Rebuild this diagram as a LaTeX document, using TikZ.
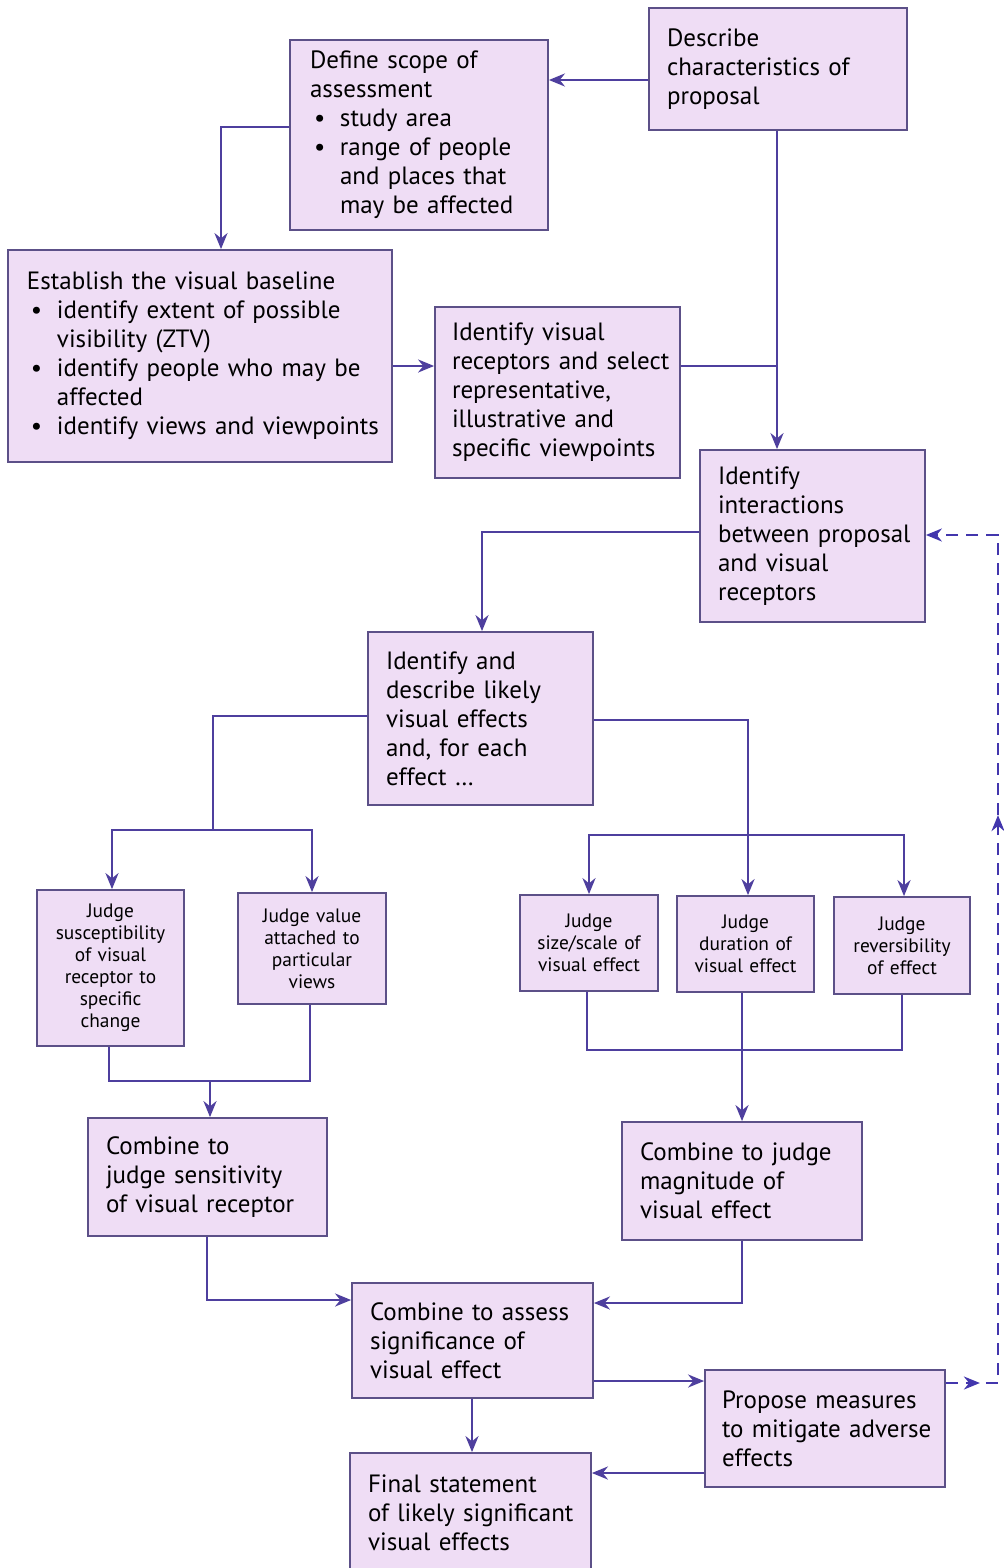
\documentclass[tikz,border=0pt]{standalone}
\usepackage{fontspec}
\setmainfont{PT Sans}
\usetikzlibrary{arrows.meta,decorations.markings}
\definecolor{boxfill}{HTML}{EFDDF5}
\definecolor{boxline}{HTML}{5C5088}
\definecolor{arr}{HTML}{4E3F9E}
\newcommand\bigfont{\fontsize{12.5}{14.5}\selectfont\hyphenpenalty=10000\exhyphenpenalty=10000}
\newcommand\smallfont{\fontsize{9.7}{11}\selectfont\hyphenpenalty=10000\exhyphenpenalty=10000}
\newcommand\bul[1]{\par\hangindent=15pt\hangafter=1\noindent\makebox[15pt][l]{\hspace{2pt}\textbullet}#1\par}
% name, x1, y1, x2, y2, pad(px), style, text
\newcommand\bx[8]{%
  \pgfmathsetmacro\myBW{(#4-#2)*0.5}%
  \pgfmathsetmacro\myBH{(#5-#3)*0.5}%
  \pgfmathsetmacro\myTW{(#4-#2-4)*0.5}%
  \pgfmathsetmacro\myPad{(#6-2)*0.5}%
  \node[#7, inner xsep=1pt, minimum width=\myBW pt, minimum height=\myBH pt, text width=\myTW pt] (#1) at ({(#2+#4)/2},{(#3+#5)/2}) {\leftskip=\myPad pt\relax #8\par};}
\newcommand\sbx[7]{%
  \pgfmathsetmacro\myBW{(#4-#2)*0.5}%
  \pgfmathsetmacro\myBH{(#5-#3)*0.5}%
  \pgfmathsetmacro\myTW{(#4-#2-4)*0.5}%
  \node[#6, inner xsep=1pt, minimum width=\myBW pt, minimum height=\myBH pt, text width=\myTW pt] (#1) at ({(#2+#4)/2},{(#3+#5)/2}) {#7};}
\tikzset{
  boxl/.style={draw=boxline, line width=0.9pt, fill=boxfill, inner ysep=2pt, align=left, font=\bigfont},
  boxs/.style={draw=boxline, line width=0.9pt, fill=boxfill, inner ysep=2pt, align=center, font=\smallfont},
  conn/.style={draw=arr, line width=1.2pt},
  arrowline/.style={conn, -{Stealth[length=8pt,width=6.5pt]}},
  dashline/.style={draw=arr!85!blue, line width=1.1pt, dash pattern=on 6pt off 4pt}
}
\begin{document}
\begin{tikzpicture}[x=0.5pt,y=-0.5pt]
\useasboundingbox (0,0) rectangle (1003,1568);
\fill[white] (0,0) rectangle (1003,1568);

\bx{desc}{649}{8}{907}{130}{18}{boxl}{Describe\\characteristics of\\proposal}
\bx{scope}{290}{40}{548}{230}{20}{boxl}{Define scope of\\assessment
\bul{study area}
\bul{range of people\newline and places that\newline may be affected}}
\bx{base}{8}{250}{392}{462}{19}{boxl}{Establish the visual baseline
\bul{identify extent of possible\newline visibility (ZTV)}
\bul{identify people who may be\newline affected}
\bul{identify views and viewpoints}}
\bx{recep}{435}{307}{680}{478}{17}{boxl}{Identify visual\\receptors and select\\representative,\\illustrative and\\specific viewpoints}
\bx{inter}{700}{450}{925}{622}{18}{boxl}{Identify\\interactions\\between proposal\\and visual\\receptors}
\bx{desc2}{368}{632}{593}{805}{18}{boxl}{Identify and\\describe likely\\visual effects\\and, for each\\effect \dots}
\sbx{susc}{37}{890}{184}{1046}{boxs}{Judge\\susceptibility\\of visual\\receptor to\\specific\\change}
\sbx{val}{238}{893}{386}{1004}{boxs}{Judge value\\attached to\\particular\\views}
\sbx{size}{520}{895}{658}{991}{boxs}{Judge\\size/scale of\\visual effect}
\sbx{dur}{677}{896}{814}{992}{boxs}{Judge\\duration of\\visual effect}
\sbx{rev}{834}{897}{970}{994}{boxs}{Judge\\reversibility\\of effect}
\bx{sens}{88}{1118}{327}{1236}{18}{boxl}{Combine to\\judge sensitivity\\of visual receptor}
\bx{mag}{622}{1122}{862}{1240}{18}{boxl}{Combine to judge\\magnitude of\\visual effect}
\bx{sig}{352}{1283}{593}{1398}{18}{boxl}{Combine to assess\\significance of\\visual effect}
\bx{prop}{705}{1370}{945}{1487}{17}{boxl}{Propose measures\\to mitigate adverse\\effects}
\bx{final}{350}{1453}{591}{1572}{18}{boxl}{Final statement\\of likely significant\\visual effects}

\coordinate (j1) at (777,366);
\coordinate (jL) at (213,830);
\coordinate (jR) at (748,835);
\coordinate (jLB) at (210,1081);
\coordinate (jRB) at (742,1050);
\coordinate (dB) at (998,1383);
\coordinate (dT) at (998,535);

\draw[arrowline] (desc.west |- 0,80) -- (scope.east |- 0,80);
\draw[arrowline] (scope.west |- 0,127) -| (base.north -| 221,0);
\draw[arrowline] (desc.south -| 777,0) -- (inter.north -| 777,0);
\draw[conn] (recep.east |- 0,366) -- (j1);
\draw[arrowline] (base.east |- 0,366) -- (recep.west |- 0,366);
\draw[arrowline] (inter.west |- 0,532) -| (desc2.north -| 482,0);
\draw[conn] (desc2.west |- 0,716) -| (jL);
\draw[arrowline] (jL) -| (susc.north -| 112,0);
\draw[arrowline] (jL) -| (val.north -| 312,0);
\draw[arrowline] (desc2.east |- 0,720) -| (dur.north -| 748,0);
\draw[arrowline] (jR) -| (size.north -| 589,0);
\draw[arrowline] (jR) -| (rev.north -| 904,0);
\draw[conn] (susc.south -| 109,0) |- (jLB);
\draw[conn] (val.south -| 310,0) |- (jLB);
\draw[arrowline] (jLB) -- (sens.north -| 210,0);
\draw[conn] (size.south -| 587,0) |- (jRB);
\draw[conn] (rev.south -| 902,0) |- (jRB);
\draw[arrowline] (dur.south -| 742,0) -- (mag.north -| 742,0);
\draw[arrowline] (sens.south -| 207,0) |- (sig.west |- 0,1300);
\draw[arrowline] (mag.south -| 742,0) |- (sig.east |- 0,1303);
\draw[arrowline] (sig.east |- 0,1381) -- (prop.west |- 0,1381);
\draw[arrowline] (sig.south -| 472,0) -- (final.north -| 472,0);
\draw[arrowline] (prop.west |- 0,1473) -- (final.east |- 0,1473);
\draw[dashline, -{Stealth[length=8pt,width=6.5pt]},
  decoration={markings,
    mark=at position 17pt with {\arrow{Stealth[length=8pt,width=6.5pt]}},
    mark=at position 310pt with {\arrow{Stealth[length=8pt,width=6.5pt]}}},
  postaction=decorate]
  (prop.east |- 0,1383) -- (dB) -- (dT) -- (inter.east |- 0,535);
\end{tikzpicture}
\end{document}
